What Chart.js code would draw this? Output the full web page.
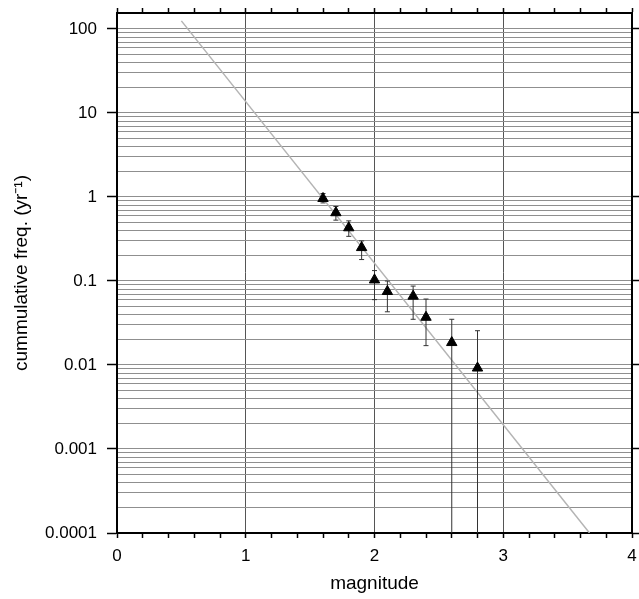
<!DOCTYPE html>
<html>
<head>
<meta charset="utf-8">
<script src="https://cdn.jsdelivr.net/npm/chart.js@4"></script>
<style>
  html, body { margin: 0; padding: 0; background: #fff; }
  #wrap { width: 639px; height: 599px; }
</style>
</head>
<body>
<div id="wrap"><canvas id="grafico" width="639" height="599"></canvas></div>
<script>
// Datos
const magnitudes = [1.6, 1.7, 1.8, 1.9, 2.0, 2.1, 2.3, 2.4, 2.6, 2.8];
const frecuencias = [0.96, 0.65, 0.43, 0.25, 0.103, 0.075, 0.066, 0.037, 0.0185, 0.0092];
const errorAlto = [1.1, 0.77, 0.52, 0.30, 0.133, 0.100, 0.087, 0.061, 0.035, 0.0256];
const errorBajo = [0.85, 0.53, 0.34, 0.18, 0.060, 0.043, 0.035, 0.017, 0.00001, 0.00001];

// Recta de ajuste (extremos)
const ajusteMag = [0.5, 3.67];
const ajusteFreq = [125, 0.0001];

// Ticks
const yDecadas = [0.0001, 0.001, 0.01, 0.1, 1, 10, 100];
const yEtiquetas = ["0.0001", "0.001", "0.01", "0.1", "1", "10", "100"];
const xEtiquetas = ["0", "1", "2", "3", "4"];

Chart.defaults.font.family = "'Liberation Sans', Arial, sans-serif";
Chart.defaults.color = "#000";

// Lineas menores 1..9 de cada decada (hasta 100)
const yMenores = [];
yDecadas.forEach(function (d) {
  if (d >= 100) { yMenores.push(d); return; }
  for (let k = 1; k <= 9; k++) yMenores.push(d * k);
});

function esDecada(v) {
  return yDecadas.findIndex(t => Math.abs(t - v) / t < 1e-6);
}
function esEntero(v) {
  return Math.abs(v - Math.round(v)) < 1e-6;
}
// Quito el relleno que Chart.js agrega por las etiquetas de los extremos
function sinRelleno(s) {
  s.paddingLeft = 0;
  s.paddingRight = 0;
  s.paddingTop = 0;
  s.paddingBottom = 0;
}

const datasets = [];

// Triangulos primero para que queden encima
datasets.push({
  data: magnitudes.map((m, i) => ({ x: m, y: frecuencias[i] })),
  pointStyle: "triangle",
  pointRadius: 6,
  pointBackgroundColor: "#000",
  pointBorderColor: "#000",
  pointBorderWidth: 1,
  showLine: false
});

// Barras de error como lineas con tapas
magnitudes.forEach(function (m, i) {
  datasets.push({
    data: [{ x: m, y: errorBajo[i] }, { x: m, y: errorAlto[i] }],
    showLine: true,
    borderColor: "#333",
    borderWidth: 1,
    pointStyle: "line",
    pointRadius: 2.5,
    pointBorderColor: "#333",
    pointBorderWidth: 1
  });
});

// Recta de ajuste
datasets.push({
  data: ajusteMag.map((m, i) => ({ x: m, y: ajusteFreq[i] })),
  showLine: true,
  borderColor: "#b4b4b4",
  borderWidth: 1.5,
  pointRadius: 0
});

new Chart(document.getElementById("grafico").getContext("2d"), {
  type: "scatter",
  data: { datasets: datasets },
  options: {
    responsive: false,
    animation: false,
    layout: { padding: 0 },
    plugins: { legend: { display: false }, tooltip: { enabled: false } },
    scales: {
      x: {
        type: "linear",
        position: "bottom",
        min: 0,
        max: 4,
        ticks: {
          stepSize: 0.2,
          autoSkip: false,
          maxRotation: 0,
          padding: 8,
          font: { size: 17 },
          callback: function (v) { return esEntero(v) ? xEtiquetas[Math.round(v)] : ""; }
        },
        grid: {
          color: ctx => (ctx.tick && esEntero(ctx.tick.value)) ? "#555" : "rgba(0,0,0,0)",
          tickColor: "#000",
          tickLength: 5,
          lineWidth: 1,
          tickWidth: 1.5
        },
        border: { color: "#000", width: 2 },
        title: {
          display: true,
          text: "magnitude",
          font: { size: 19 },
          padding: { top: 0, bottom: 4 }
        },
        afterFit: s => { s.height = 66; sinRelleno(s); }
      },
      x2: {
        type: "linear",
        position: "top",
        min: 0,
        max: 4,
        ticks: { stepSize: 0.2, display: false },
        grid: { drawOnChartArea: false, tickColor: "#000", tickLength: 5, tickWidth: 1.5 },
        border: { color: "#000", width: 2 },
        afterFit: s => { s.height = 13; sinRelleno(s); }
      },
      y: {
        type: "logarithmic",
        position: "left",
        min: 0.0001,
        max: 155,
        afterBuildTicks: s => { s.ticks = yMenores.map(v => ({ value: v })); },
        ticks: {
          autoSkip: false,
          padding: 10,
          font: { size: 17 },
          callback: function (v) {
            const i = esDecada(v);
            return i >= 0 ? yEtiquetas[i] : "";
          }
        },
        grid: {
          color: "#8f8f8f",
          lineWidth: 1,
          tickColor: ctx => (ctx.tick && esDecada(ctx.tick.value) >= 0) ? "#000" : "rgba(0,0,0,0)",
          tickLength: 10,
          tickWidth: 1.5
        },
        border: { color: "#000", width: 2 },
        title: {
          display: true,
          text: "cummulative freq. (yr⁻¹)",
          font: { size: 19 },
          padding: { top: 10, bottom: 0 }
        },
        afterFit: s => { s.width = 117; sinRelleno(s); }
      },
      y2: {
        type: "logarithmic",
        position: "right",
        min: 0.0001,
        max: 155,
        afterBuildTicks: s => { s.ticks = yDecadas.map(v => ({ value: v })); },
        ticks: { display: false },
        grid: { drawOnChartArea: false, tickColor: "#000", tickLength: 10, tickWidth: 1.5 },
        border: { color: "#000", width: 2 },
        afterFit: s => { s.width = 4; sinRelleno(s); }
      }
    }
  }
});
</script>
</body>
</html>
